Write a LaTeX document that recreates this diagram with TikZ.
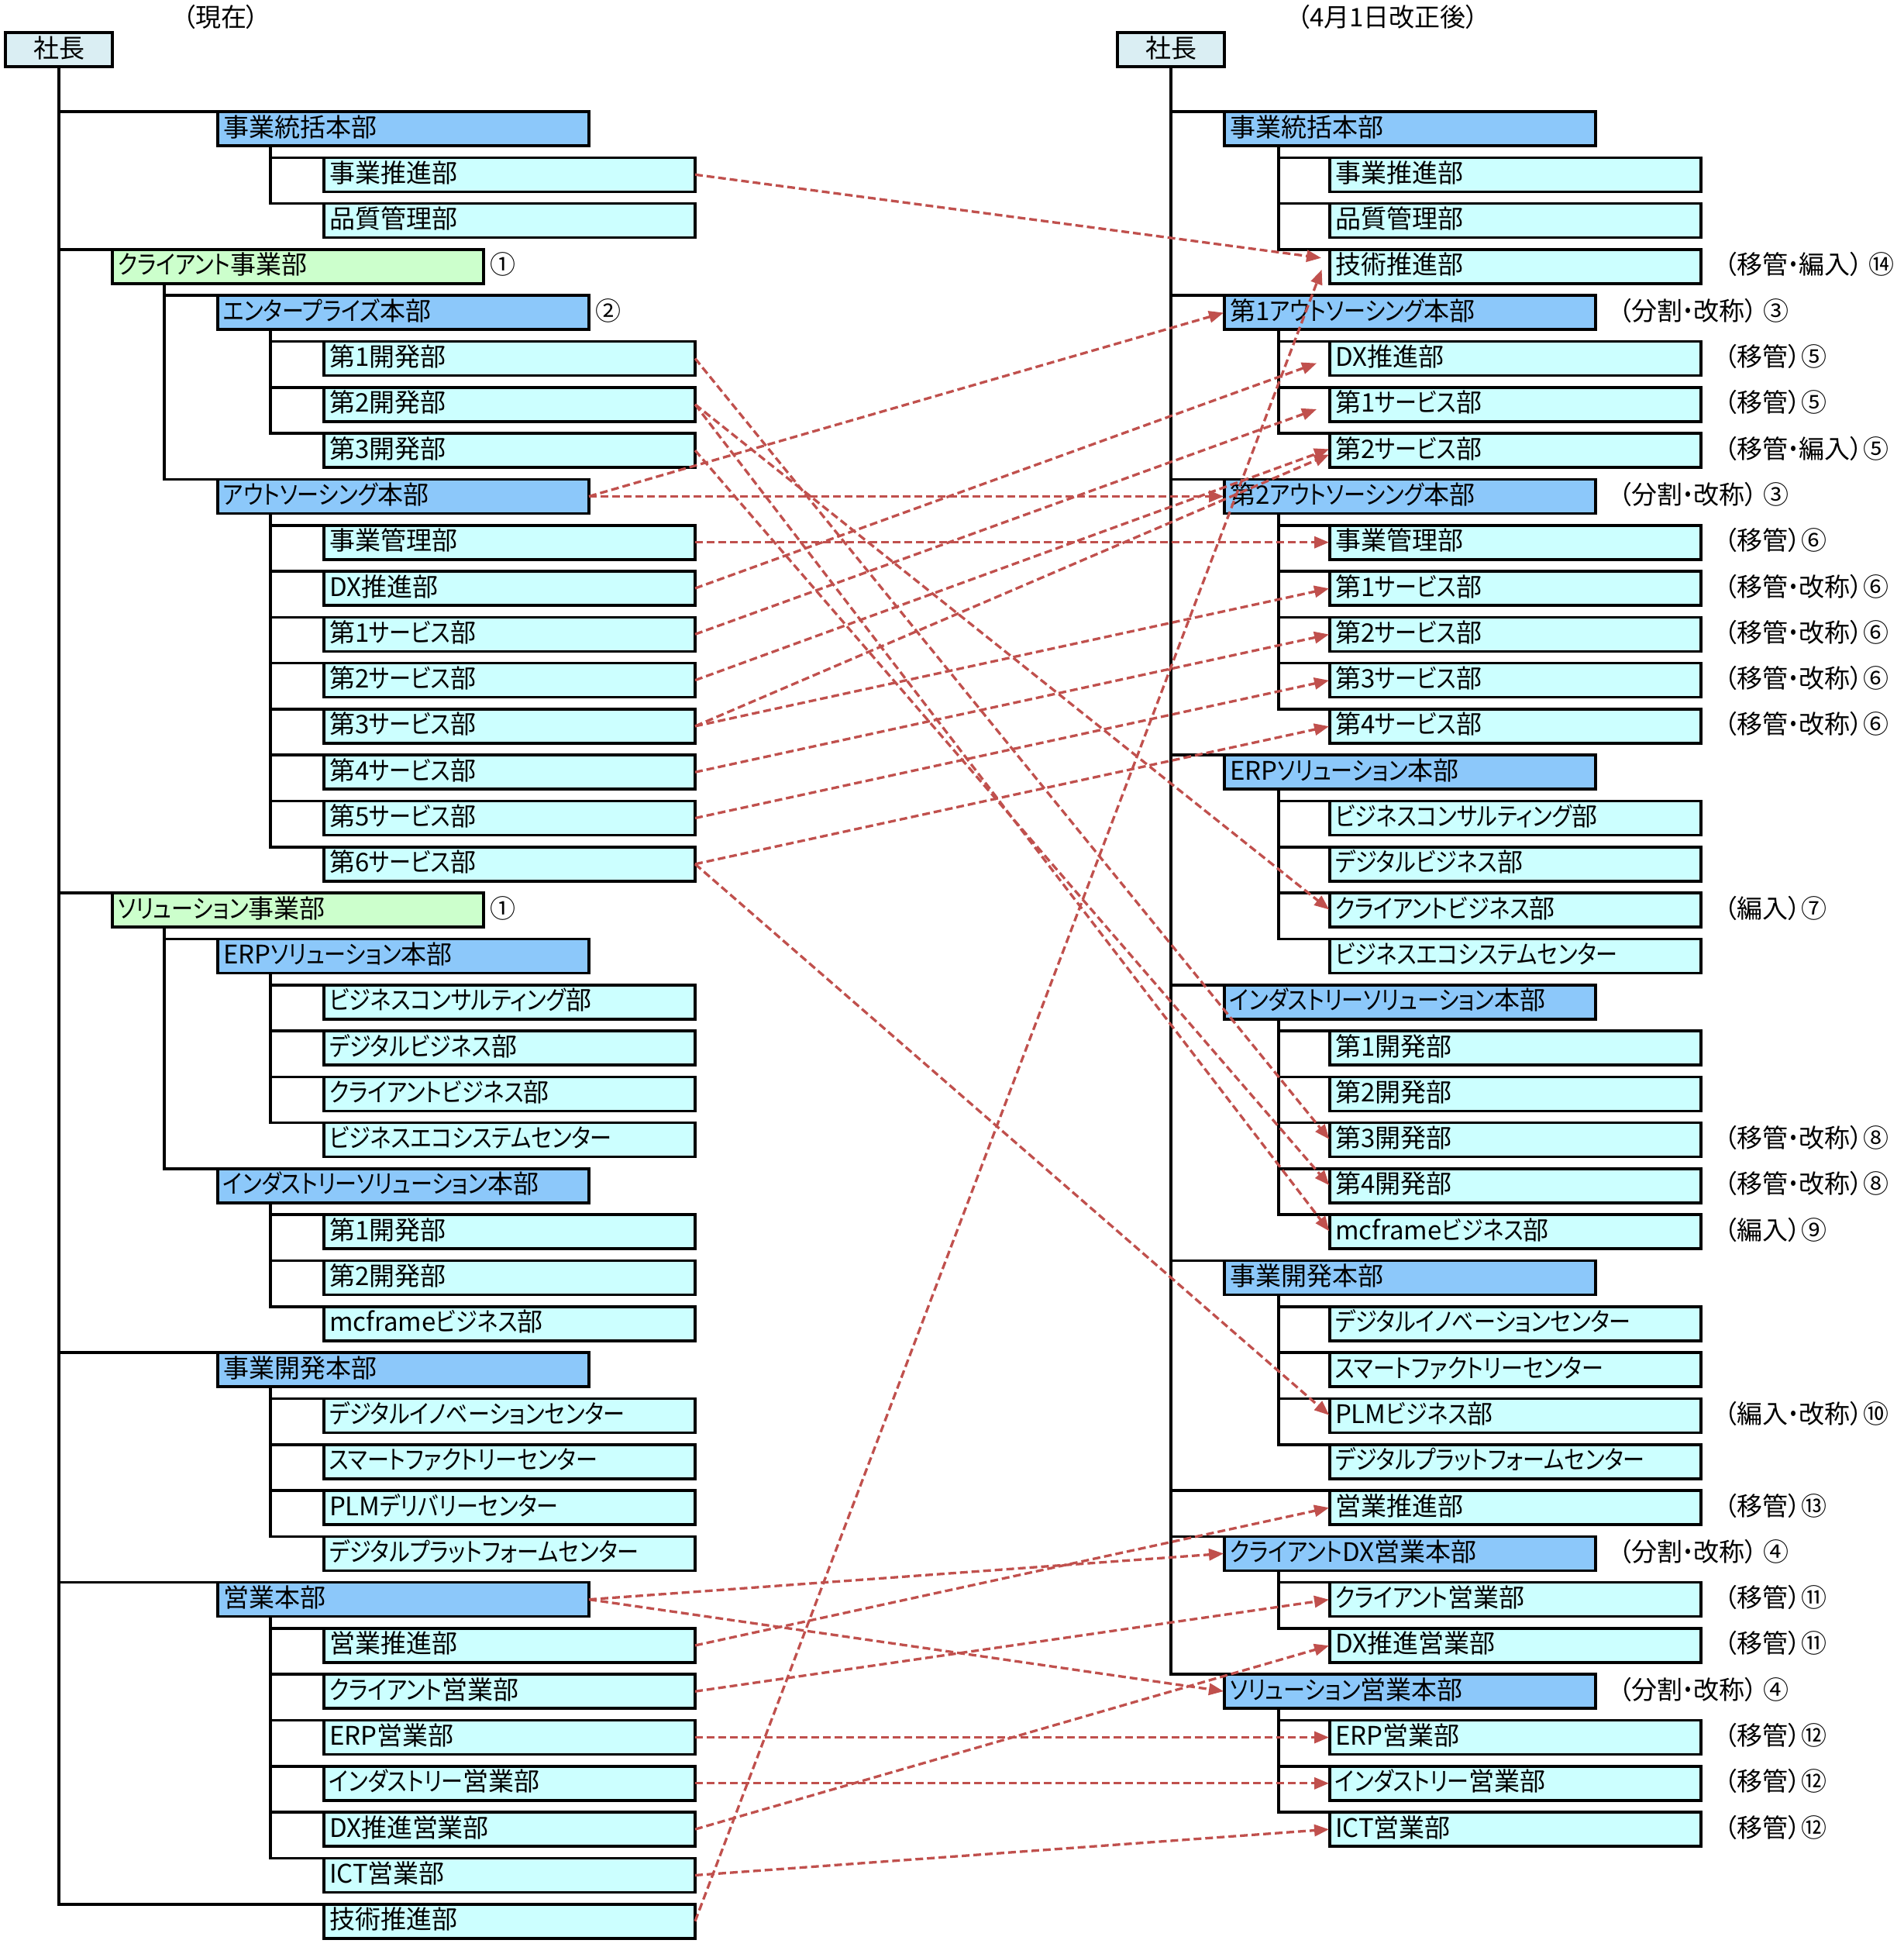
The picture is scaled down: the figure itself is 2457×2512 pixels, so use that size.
\documentclass[tikz,border=0pt]{standalone}
\usepackage{fontspec}
\newfontfamily\jpfont{Noto Sans CJK JP}[RawFeature=+palt]
\newfontfamily\jpkana{Noto Sans CJK JP}[RawFeature=+palt,FakeStretch=0.85]
\XeTeXinterchartokenstate=1
\chardef\KanaClass=10
\newcount\kanacnt
\kanacnt="30A1
\loop
 \XeTeXcharclass\kanacnt=\KanaClass
 \ifnum\kanacnt<"30FE
 \advance\kanacnt by 1
\repeat
\XeTeXinterchartoks 0 \KanaClass = {\jpkana}
\XeTeXinterchartoks 1 \KanaClass = {\jpkana}
\XeTeXinterchartoks 2 \KanaClass = {\jpkana}
\XeTeXinterchartoks 3 \KanaClass = {\jpkana}
\XeTeXinterchartoks 4095 \KanaClass = {\jpkana}
\XeTeXinterchartoks \KanaClass 0 = {\jpfont}
\XeTeXinterchartoks \KanaClass 1 = {\jpfont}
\XeTeXinterchartoks \KanaClass 2 = {\jpfont}
\XeTeXinterchartoks \KanaClass 3 = {\jpfont}
\XeTeXinterchartoks \KanaClass 4095 = {\jpfont}
\usetikzlibrary{arrows.meta}
\definecolor{hqc}{RGB}{140,200,250}
\definecolor{leafc}{RGB}{204,255,255}
\definecolor{grnc}{RGB}{204,255,204}
\definecolor{prc}{RGB}{218,238,243}
\definecolor{arrc}{RGB}{192,80,77}
\newcommand\orgbox[5]{\node[#1] (#2) at (#3,{166+59.3*#4}) {#5};}
\newcommand\tl[3]{\draw[tree] ([xshift=#2]#1.south west) |- (#3.north west);}
\begin{document}
\begin{tikzpicture}[x=1pt,y=-1pt,
 jpf/.style={font=\jpfont\fontsize{33pt}{38pt}\selectfont},
 base/.style={draw, line width=3.6pt, outer sep=0pt, inner xsep=7pt, inner ysep=0pt, minimum height=44pt, text height=26pt, text depth=6pt, jpf},
 unit/.style={base, anchor=west, text width=465pt, align=left},
 hq/.style={unit, fill=hqc},
 leaf/.style={unit, fill=leafc},
 grn/.style={unit, fill=grnc},
 prez/.style={base, fill=prc, minimum width=138pt},
 note/.style={inner sep=0pt, outer sep=0pt, text height=26pt, text depth=6pt, jpf, anchor=west},
 tree/.style={line width=3.6pt},
 mv/.style={draw=arrc, line width=3.3pt, dash pattern=on 10pt off 5pt, -{Triangle[length=19pt,width=15pt]}, shorten >=1pt}
]
\useasboundingbox (0,0) rectangle (2457,2512);
% titles
\node[note, anchor=center] (T1) at (285,24) {（現在）};
\node[note, anchor=center] (T2) at (1791,24) {（4月1日改正後）};
% presidents
\node[prez] (LP) at (76,64) {社長};
\node[prez] (RP) at (1511,64) {社長};
% left column
\orgbox{hq}{L0}{281}{0}{事業統括本部}
\orgbox{leaf}{L1}{418}{1}{事業推進部}
\orgbox{leaf}{L2}{418}{2}{品質管理部}
\orgbox{grn}{L3}{145}{3}{クライアント事業部}
\orgbox{hq}{L4}{281}{4}{エンタープライズ本部}
\orgbox{leaf}{L5}{418}{5}{第1開発部}
\orgbox{leaf}{L6}{418}{6}{第2開発部}
\orgbox{leaf}{L7}{418}{7}{第3開発部}
\orgbox{hq}{L8}{281}{8}{アウトソーシング本部}
\orgbox{leaf}{L9}{418}{9}{事業管理部}
\orgbox{leaf}{L10}{418}{10}{DX推進部}
\orgbox{leaf}{L11}{418}{11}{第1サービス部}
\orgbox{leaf}{L12}{418}{12}{第2サービス部}
\orgbox{leaf}{L13}{418}{13}{第3サービス部}
\orgbox{leaf}{L14}{418}{14}{第4サービス部}
\orgbox{leaf}{L15}{418}{15}{第5サービス部}
\orgbox{leaf}{L16}{418}{16}{第6サービス部}
\orgbox{grn}{L17}{145}{17}{ソリューション事業部}
\orgbox{hq}{L18}{281}{18}{ERPソリューション本部}
\orgbox{leaf}{L19}{418}{19}{ビジネスコンサルティング部}
\orgbox{leaf}{L20}{418}{20}{デジタルビジネス部}
\orgbox{leaf}{L21}{418}{21}{クライアントビジネス部}
\orgbox{leaf}{L22}{418}{22}{ビジネスエコシステムセンター}
\orgbox{hq}{L23}{281}{23}{インダストリーソリューション本部}
\orgbox{leaf}{L24}{418}{24}{第1開発部}
\orgbox{leaf}{L25}{418}{25}{第2開発部}
\orgbox{leaf}{L26}{418}{26}{mcframeビジネス部}
\orgbox{hq}{L27}{281}{27}{事業開発本部}
\orgbox{leaf}{L28}{418}{28}{デジタルイノベーションセンター}
\orgbox{leaf}{L29}{418}{29}{スマートファクトリーセンター}
\orgbox{leaf}{L30}{418}{30}{PLMデリバリーセンター}
\orgbox{leaf}{L31}{418}{31}{デジタルプラットフォームセンター}
\orgbox{hq}{L32}{281}{32}{営業本部}
\orgbox{leaf}{L33}{418}{33}{営業推進部}
\orgbox{leaf}{L34}{418}{34}{クライアント営業部}
\orgbox{leaf}{L35}{418}{35}{ERP営業部}
\orgbox{leaf}{L36}{418}{36}{インダストリー営業部}
\orgbox{leaf}{L37}{418}{37}{DX推進営業部}
\orgbox{leaf}{L38}{418}{38}{ICT営業部}
\orgbox{leaf}{L39}{418}{39}{技術推進部}
\node[note] (nL3) at ([xshift=8pt]L3.east) {①};
\node[note] (nL4) at ([xshift=8pt]L4.east) {②};
\node[note] (nL17) at ([xshift=8pt]L17.east) {①};
% right column
\orgbox{hq}{R0}{1580}{0}{事業統括本部}
\orgbox{leaf}{R1}{1716}{1}{事業推進部}
\orgbox{leaf}{R2}{1716}{2}{品質管理部}
\orgbox{leaf}{R3}{1716}{3}{技術推進部}
\orgbox{hq}{R4}{1580}{4}{第1アウトソーシング本部}
\orgbox{leaf}{R5}{1716}{5}{DX推進部}
\orgbox{leaf}{R6}{1716}{6}{第1サービス部}
\orgbox{leaf}{R7}{1716}{7}{第2サービス部}
\orgbox{hq}{R8}{1580}{8}{第2アウトソーシング本部}
\orgbox{leaf}{R9}{1716}{9}{事業管理部}
\orgbox{leaf}{R10}{1716}{10}{第1サービス部}
\orgbox{leaf}{R11}{1716}{11}{第2サービス部}
\orgbox{leaf}{R12}{1716}{12}{第3サービス部}
\orgbox{leaf}{R13}{1716}{13}{第4サービス部}
\orgbox{hq}{R14}{1580}{14}{ERPソリューション本部}
\orgbox{leaf}{R15}{1716}{15}{ビジネスコンサルティング部}
\orgbox{leaf}{R16}{1716}{16}{デジタルビジネス部}
\orgbox{leaf}{R17}{1716}{17}{クライアントビジネス部}
\orgbox{leaf}{R18}{1716}{18}{ビジネスエコシステムセンター}
\orgbox{hq}{R19}{1580}{19}{インダストリーソリューション本部}
\orgbox{leaf}{R20}{1716}{20}{第1開発部}
\orgbox{leaf}{R21}{1716}{21}{第2開発部}
\orgbox{leaf}{R22}{1716}{22}{第3開発部}
\orgbox{leaf}{R23}{1716}{23}{第4開発部}
\orgbox{leaf}{R24}{1716}{24}{mcframeビジネス部}
\orgbox{hq}{R25}{1580}{25}{事業開発本部}
\orgbox{leaf}{R26}{1716}{26}{デジタルイノベーションセンター}
\orgbox{leaf}{R27}{1716}{27}{スマートファクトリーセンター}
\orgbox{leaf}{R28}{1716}{28}{PLMビジネス部}
\orgbox{leaf}{R29}{1716}{29}{デジタルプラットフォームセンター}
\orgbox{leaf}{R30}{1716}{30}{営業推進部}
\orgbox{hq}{R31}{1580}{31}{クライアントDX営業本部}
\orgbox{leaf}{R32}{1716}{32}{クライアント営業部}
\orgbox{leaf}{R33}{1716}{33}{DX推進営業部}
\orgbox{hq}{R34}{1580}{34}{ソリューション営業本部}
\orgbox{leaf}{R35}{1716}{35}{ERP営業部}
\orgbox{leaf}{R36}{1716}{36}{インダストリー営業部}
\orgbox{leaf}{R37}{1716}{37}{ICT営業部}
% right notes
\node[note] (nR3) at ([xshift=30pt]R3.east) {（移管・編入） ⑭};
\node[note] (nR4) at ([xshift=30pt]R4.east) {（分割・改称） ③};
\node[note] (nR5) at ([xshift=30pt]R5.east) {（移管）⑤};
\node[note] (nR6) at ([xshift=30pt]R6.east) {（移管）⑤};
\node[note] (nR7) at ([xshift=30pt]R7.east) {（移管・編入）⑤};
\node[note] (nR8) at ([xshift=30pt]R8.east) {（分割・改称） ③};
\node[note] (nR9) at ([xshift=30pt]R9.east) {（移管）⑥};
\node[note] (nR10) at ([xshift=30pt]R10.east) {（移管・改称）⑥};
\node[note] (nR11) at ([xshift=30pt]R11.east) {（移管・改称）⑥};
\node[note] (nR12) at ([xshift=30pt]R12.east) {（移管・改称）⑥};
\node[note] (nR13) at ([xshift=30pt]R13.east) {（移管・改称）⑥};
\node[note] (nR17) at ([xshift=30pt]R17.east) {（編入）⑦};
\node[note] (nR22) at ([xshift=30pt]R22.east) {（移管・改称）⑧};
\node[note] (nR23) at ([xshift=30pt]R23.east) {（移管・改称）⑧};
\node[note] (nR24) at ([xshift=30pt]R24.east) {（編入）⑨};
\node[note] (nR28) at ([xshift=30pt]R28.east) {（編入・改称）⑩};
\node[note] (nR30) at ([xshift=30pt]R30.east) {（移管）⑬};
\node[note] (nR31) at ([xshift=30pt]R31.east) {（分割・改称） ④};
\node[note] (nR32) at ([xshift=30pt]R32.east) {（移管）⑪};
\node[note] (nR33) at ([xshift=30pt]R33.east) {（移管）⑪};
\node[note] (nR34) at ([xshift=30pt]R34.east) {（分割・改称） ④};
\node[note] (nR35) at ([xshift=30pt]R35.east) {（移管）⑫};
\node[note] (nR36) at ([xshift=30pt]R36.east) {（移管）⑫};
\node[note] (nR37) at ([xshift=30pt]R37.east) {（移管）⑫};
% left tree
\foreach \c in {L0,L3,L17,L27,L32,L39} {\draw[tree] (LP.south) |- (\c.north west);}
\foreach \c in {L1,L2} {\tl{L0}{68pt}{\c}}
\foreach \c in {L4,L8} {\tl{L3}{67pt}{\c}}
\foreach \c in {L5,L6,L7} {\tl{L4}{68pt}{\c}}
\foreach \c in {L9,L10,L11,L12,L13,L14,L15,L16} {\tl{L8}{68pt}{\c}}
\foreach \c in {L18,L23} {\tl{L17}{67pt}{\c}}
\foreach \c in {L19,L20,L21,L22} {\tl{L18}{68pt}{\c}}
\foreach \c in {L24,L25,L26} {\tl{L23}{68pt}{\c}}
\foreach \c in {L28,L29,L30,L31} {\tl{L27}{68pt}{\c}}
\foreach \c in {L33,L34,L35,L36,L37,L38} {\tl{L32}{68pt}{\c}}
% right tree
\foreach \c in {R0,R4,R8,R14,R19,R25,R30,R31,R34} {\draw[tree] (RP.south) |- (\c.north west);}
\foreach \c in {R1,R2,R3} {\tl{R0}{70pt}{\c}}
\foreach \c in {R5,R6,R7} {\tl{R4}{70pt}{\c}}
\foreach \c in {R9,R10,R11,R12,R13} {\tl{R8}{70pt}{\c}}
\foreach \c in {R15,R16,R17,R18} {\tl{R14}{70pt}{\c}}
\foreach \c in {R20,R21,R22,R23,R24} {\tl{R19}{70pt}{\c}}
\foreach \c in {R26,R27,R28,R29} {\tl{R25}{70pt}{\c}}
\foreach \c in {R32,R33} {\tl{R31}{70pt}{\c}}
\foreach \c in {R35,R36,R37} {\tl{R34}{70pt}{\c}}
% moves
\draw[mv] (L1.east) -- ([xshift=-10pt,yshift=11pt]R3.west);
\draw[mv] (L39.east) -- ([xshift=-10pt,yshift=-3pt]R3.west);
\draw[mv] (L8.east) -- (R4.west);
\draw[mv] (L8.east) -- (R8.west);
\draw[mv] (L9.east) -- (R9.west);
\draw[mv, shorten >=18pt] (L10.east) -- (R5.west);
\draw[mv, shorten >=18pt] (L11.east) -- (R6.west);
\draw[mv] (L12.east) -- ([yshift=2pt]R7.west);
\draw[mv] (L13.east) -- ([yshift=-5pt]R7.west);
\draw[mv] (L13.east) -- (R10.west);
\draw[mv] (L14.east) -- (R11.west);
\draw[mv] (L15.east) -- (R12.west);
\draw[mv] (L16.east) -- (R13.west);
\draw[mv] (L16.east) -- (R28.west);
\draw[mv] (L5.east) -- (R22.west);
\draw[mv] (L6.east) -- (R17.west);
\draw[mv] (L6.east) -- (R24.west);
\draw[mv] (L7.east) -- (R23.west);
\draw[mv] (L32.east) -- (R31.west);
\draw[mv] (L32.east) -- (R34.west);
\draw[mv] (L33.east) -- (R30.west);
\draw[mv] (L34.east) -- (R32.west);
\draw[mv] (L35.east) -- (R35.west);
\draw[mv] (L36.east) -- (R36.west);
\draw[mv] (L37.east) -- (R33.west);
\draw[mv] (L38.east) -- (R37.west);
\end{tikzpicture}
\end{document}
